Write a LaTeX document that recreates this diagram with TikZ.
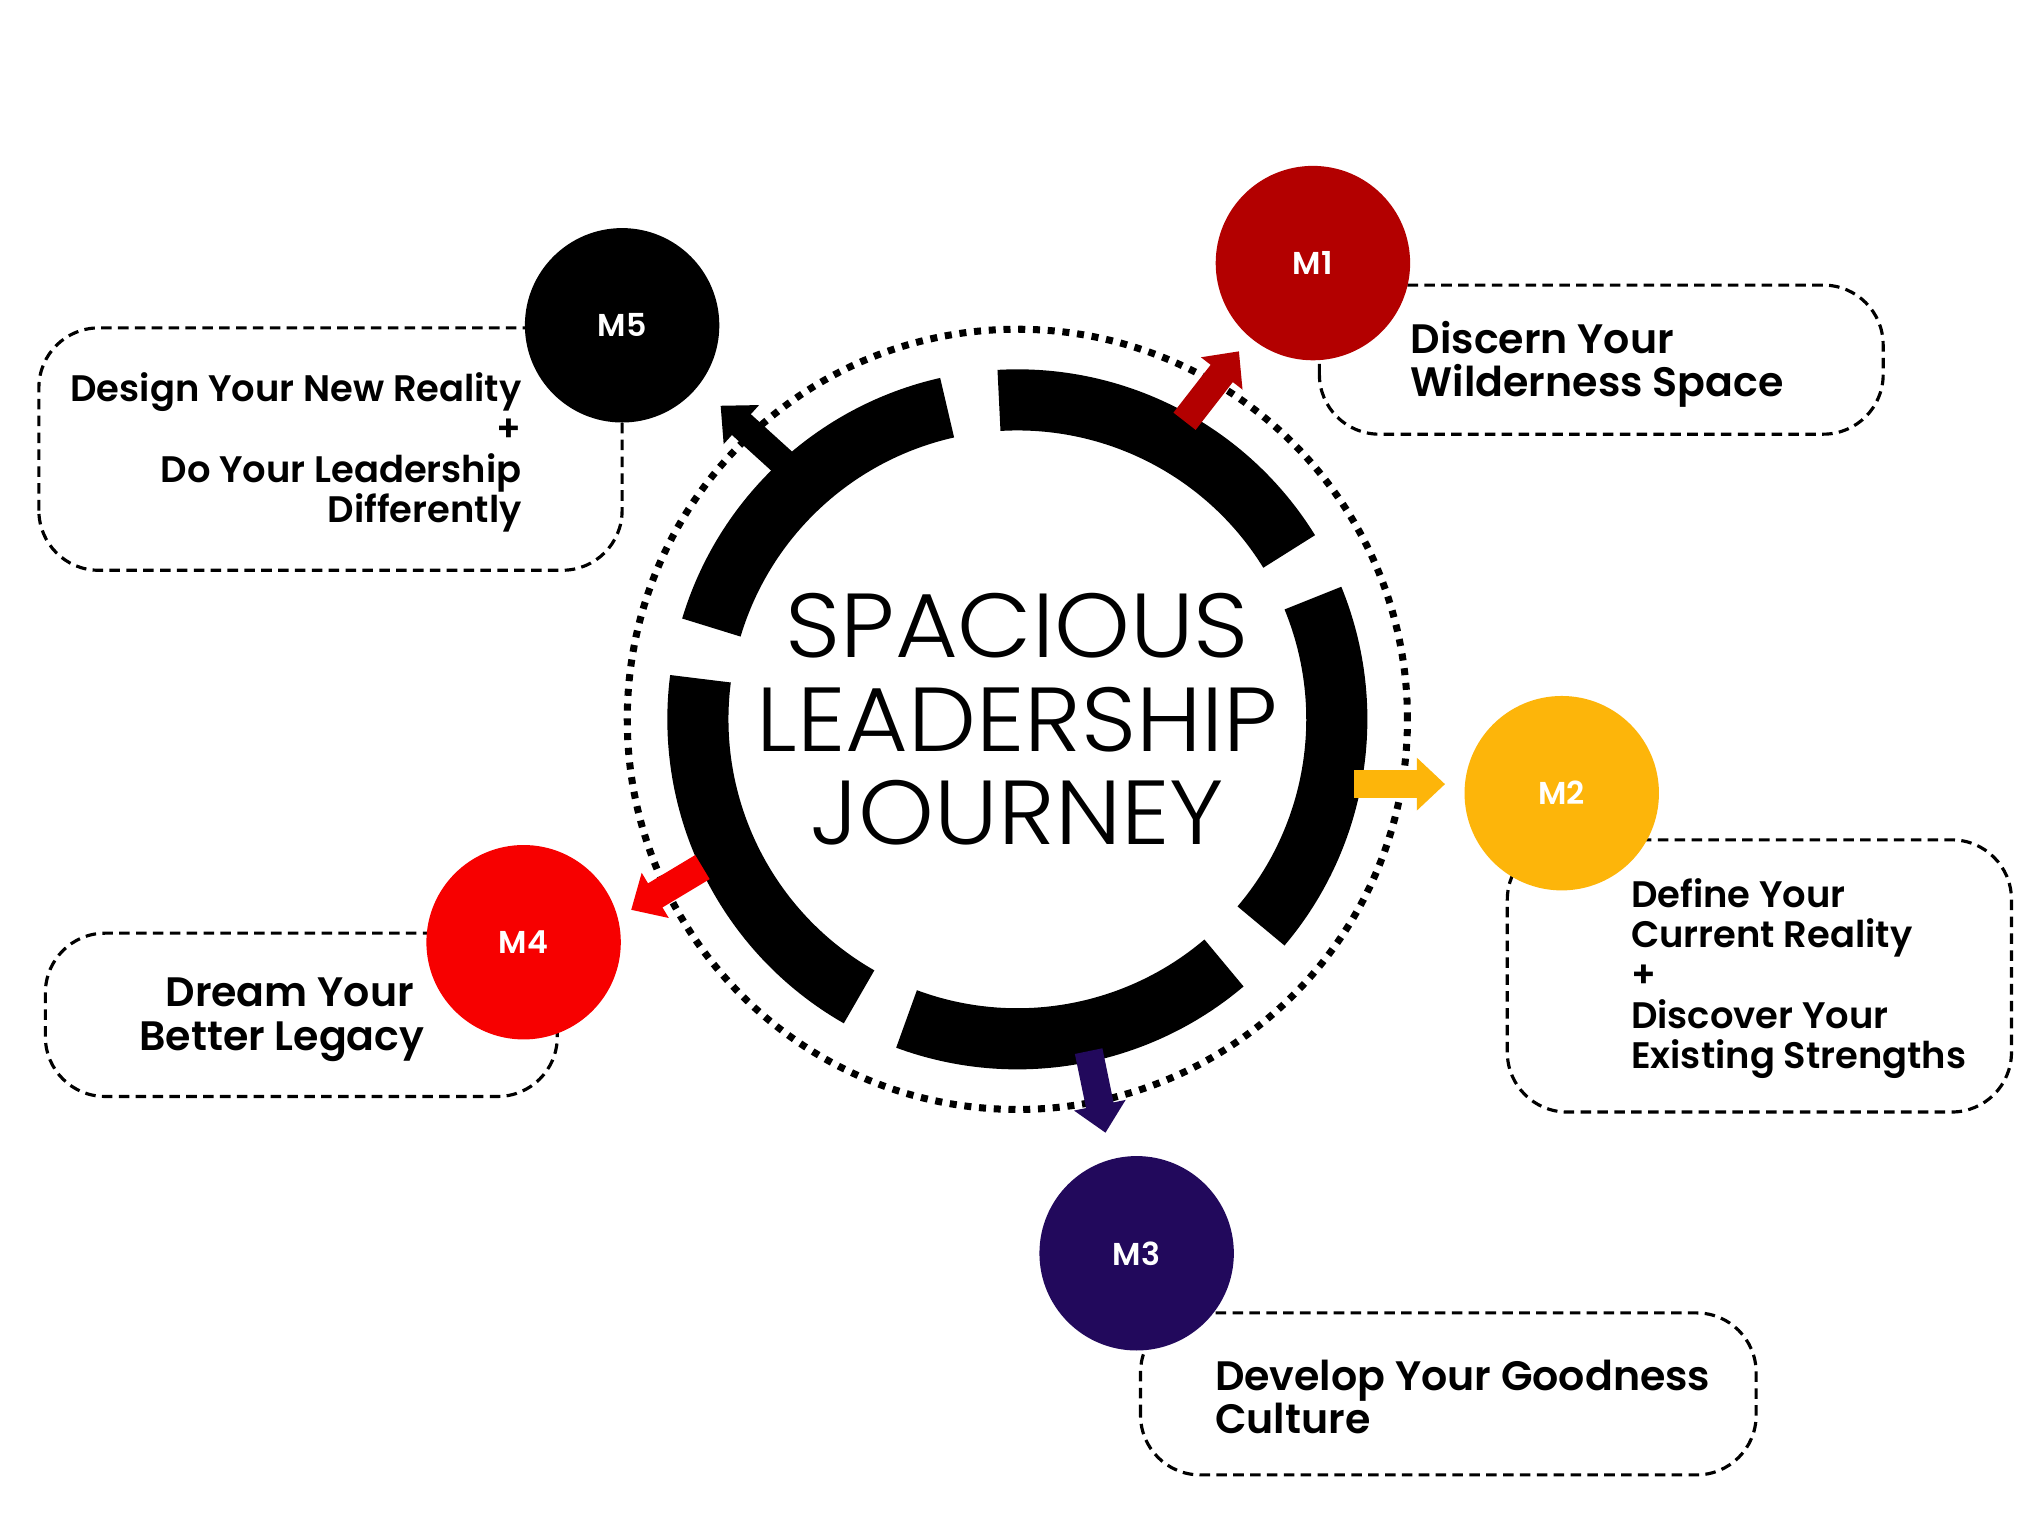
\documentclass[tikz,border=0pt]{standalone}
\usepackage{fontspec}
\setmainfont{Poppins}
\newfontfamily\titlefont{Poppins Light}
\newfontfamily\labelfont{Poppins SemiBold}
\usetikzlibrary{arrows.meta,calc}
\definecolor{mOne}{HTML}{B30000}
\definecolor{mTwo}{HTML}{FDB50A}
\definecolor{mThree}{HTML}{22095C}
\definecolor{mFour}{HTML}{F70000}
\definecolor{mFive}{HTML}{000000}
\begin{document}
\begin{tikzpicture}[x=0.013026cm, y=0.013026cm,
  ringseg/.style={line width=17.4pt, draw=black},
  dotring/.style={line width=2pt, dash pattern=on 2pt off 2.2pt},
  mcirc/.style={circle, minimum size=1.945cm, inner sep=0pt, text=white, font=\labelfont\fontsize{9}{10}\selectfont},
  lbox/.style={line width=0.9pt, dash pattern=on 3pt off 1.8pt, rounded corners=17pt},
  ltext/.style={font=\labelfont\fontsize{11.7}{12.4}\selectfont, inner sep=0pt},
  stext/.style={font=\labelfont\fontsize{10.5}{11.5}\selectfont, inner sep=0pt},
  marrow/.style={line width=8pt, -{Triangle[length=8pt,width=14.5pt]}}]
\useasboundingbox (0,0) rectangle (1560,1170);
\fill[white] (0,0) rectangle (1560,1170);
\begin{scope}[shift={(0,1170)}, scale=0.995, shift={(0,-1170)}]
% dashed label boxes
\draw[lbox] (1018,835) rectangle (1453,950);
\draw[lbox] (1163,312) rectangle (1552,522);
\draw[lbox] (880,32) rectangle (1355,157);
\draw[lbox] (35,324) rectangle (430,450);
\draw[lbox] (30,730) rectangle (480,917);

% milestone circles
\node[mcirc, fill=mOne] (m1) at (1013,967) {M1};
\node[mcirc, fill=mTwo] (m2) at (1205,558) {M2};
\node[mcirc, fill=mThree] (m3) at (877,203) {M3};
\node[mcirc, fill=mFour] (m4) at (404,443) {M4};
\node[mcirc, fill=mFive] (m5) at (480,919) {M5};

% labels
\node[ltext, anchor=west, align=left] (t1) at (1088,889) {Discern Your\\Wilderness Space};
\node[stext, anchor=west, align=left] (t2) at (1258,415) {Define Your\\Current Reality\\+\\Discover Your\\Existing Strengths};
\node[ltext, anchor=west, align=left] (t3) at (937,92) {Develop Your Goodness\\Culture};
\node[ltext, anchor=east, align=right] (t4) at (328,383) {Dream Your\hspace*{3pt}\\Better Legacy};
\node[stext, anchor=east, align=right] (t5) at (403,821) {Design Your New Reality\\+\\Do Your Leadership\\Differently};

% ring
\coordinate (c) at (785,615);
\draw[dotring] (c) circle[radius=301];
\draw[ringseg] ($(c)+(93.3:246.5)$) arc[start angle=93.3, end angle=31.7, radius=246.5];
\draw[ringseg] ($(c)+(22.3:246.5)$) arc[start angle=22.3, end angle=-40.3, radius=246.5];
\draw[ringseg] ($(c)+(-49.7:246.5)$) arc[start angle=-49.7, end angle=-110.3, radius=246.5];
\draw[ringseg] ($(c)+(-119.7:246.5)$) arc[start angle=-119.7, end angle=-187.3, radius=246.5];
\draw[ringseg] ($(c)+(163.3:246.5)$) arc[start angle=163.3, end angle=102.7, radius=246.5];

\node[font=\titlefont\fontsize{26}{26.7}\selectfont, align=center, inner sep=0pt, xscale=1.06, transform shape] (title) at (c) {SPACIOUS\\LEADERSHIP\\JOURNEY};

% arrows
\coordinate (s1) at (914,845); \coordinate (e1) at (956,899);
\coordinate (s2) at (1045,565); \coordinate (e2) at (1115,565);
\coordinate (s3) at (840,359); \coordinate (e3) at (853,296);
\coordinate (s4) at (542,501); \coordinate (e4) at (487,468);
\coordinate (s5) at (610,808); \coordinate (e5) at (556,857);
\draw[marrow, mOne] (s1) -- (e1);
\draw[marrow, mTwo] (s2) -- (e2);
\draw[marrow, mThree] (s3) -- (e3);
\draw[marrow, mFour] (s4) -- (e4);
\draw[marrow, mFive] (s5) -- (e5);
\end{scope}
\end{tikzpicture}
\end{document}
